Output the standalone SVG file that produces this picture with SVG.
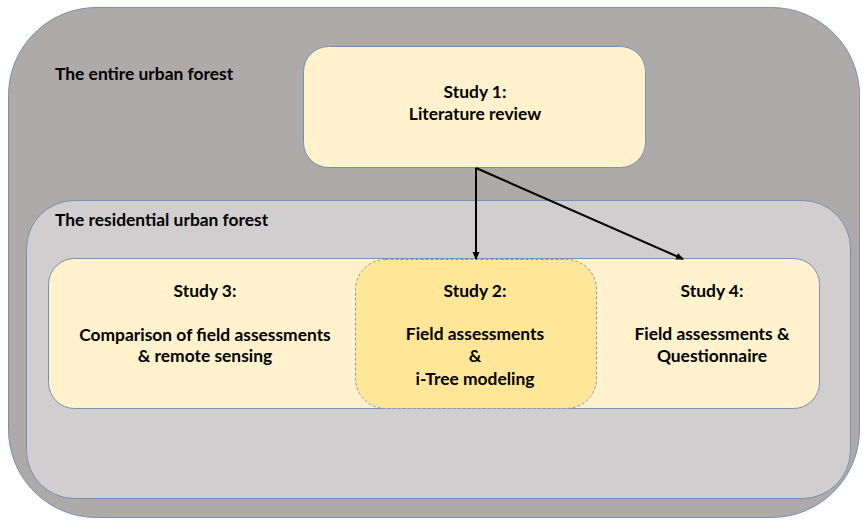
<svg xmlns="http://www.w3.org/2000/svg" width="862" height="520" viewBox="0 0 862 520">
<defs>
<style>
.t{font-family:Lato,"Liberation Sans",sans-serif;font-weight:bold;font-size:17.4px;fill:#000}
.c{text-anchor:middle}
.box{stroke:#7491B3;stroke-width:1}
</style>
<marker id="ah" markerWidth="8" markerHeight="8" refX="7" refY="4" orient="auto" markerUnits="userSpaceOnUse">
<path d="M0,0.5 L8,4 L0,7.5 Z" fill="#000"/>
</marker>
</defs>
<rect width="862" height="520" fill="#fff"/>
<g id="entire">
<rect class="box" x="8.5" y="7.5" width="851" height="510" rx="88" fill="#AEAAAA"/>
<text class="t" x="55" y="80">The entire urban forest</text>
</g>
<g id="residential">
<rect class="box" x="26.5" y="200.5" width="824" height="298" rx="48" fill="#D0CECE"/>
<text class="t" x="55" y="226">The residential urban forest</text>
</g>
<g id="study1">
<rect class="box" x="303.5" y="46.5" width="342" height="121" rx="25" fill="#FFF2CC"/>
<text class="t c" x="475" y="98">Study 1:</text>
<text class="t c" x="475" y="120">Literature review</text>
</g>
<g id="row">
<rect class="box" x="48.5" y="258.5" width="771" height="150" rx="26" fill="#FFF2CC"/>
</g>
<g id="study3">
<text class="t c" x="205" y="297">Study 3:</text>
<text class="t c" x="205" y="341">Comparison of field assessments</text>
<text class="t c" x="205" y="362">&amp; remote sensing</text>
</g>
<g id="study2">
<rect x="355.5" y="259.5" width="241" height="149" rx="30" fill="#FFE699" stroke="#8497B0" stroke-width="1" stroke-dasharray="3,2"/>
<text class="t c" x="475" y="297">Study 2:</text>
<text class="t c" x="475" y="340">Field assessments</text>
<text class="t c" x="475" y="362">&amp;</text>
<text class="t c" x="475" y="385">i-Tree modeling</text>
</g>
<g id="study4">
<text class="t c" x="712" y="297">Study 4:</text>
<text class="t c" x="712" y="340">Field assessments &amp;</text>
<text class="t c" x="712" y="362">Questionnaire</text>
</g>
<g id="connectors" stroke="#000" stroke-width="2" fill="none">
<line x1="476" y1="168" x2="476" y2="259" marker-end="url(#ah)"/>
<line x1="476" y1="168" x2="683" y2="259" marker-end="url(#ah)"/>
</g>
</svg>
